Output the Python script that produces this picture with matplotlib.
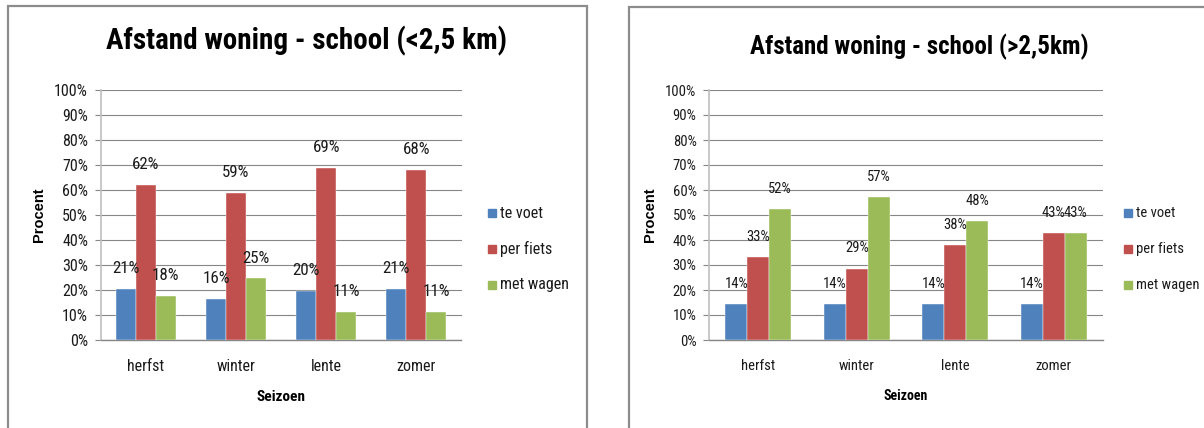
import numpy as np
import matplotlib
matplotlib.use("Agg")
import matplotlib.pyplot as plt
from matplotlib import font_manager
from matplotlib.patches import Rectangle

# --- data -------------------------------------------------------------
seasons = ["herfst", "winter", "lente", "zomer"]
series_names = ["te voet", "per fiets", "met wagen"]

near_te_voet = [20.6, 16.4, 19.6, 20.6]
near_per_fiets = [62.0, 58.9, 69.0, 68.0]
near_met_wagen = [17.6, 24.7, 11.4, 11.4]

far_te_voet = [14.3, 14.3, 14.3, 14.3]
far_per_fiets = [33.3, 28.6, 38.1, 42.9]
far_met_wagen = [52.4, 57.1, 47.6, 42.9]

titles = ["Afstand woning - school (<2,5 km)", "Afstand woning - school (>2,5km)"]
y_ticks = list(range(0, 101, 10))

# --- styling ----------------------------------------------------------
def pick_font(candidates):
    names = {f.name for f in font_manager.fontManager.ttflist}
    for c in candidates:
        if c in names:
            return c
    return "DejaVu Sans"

NARROW = pick_font(["Liberation Sans Narrow", "Roboto Condensed", "Open Sans Condensed", "Liberation Sans"])
WIDE = pick_font(["Liberation Sans", "DejaVu Sans"])

colors = ["#4F81BD", "#C0504D", "#9BBB59"]
grid_color = "#868686"

W, H = 1204, 428
fig = plt.figure(figsize=(W / 100, H / 100), dpi=100)
fig.patch.set_facecolor("white")


def px_axes(x0, x1, y0, y1):
    return fig.add_axes([x0 / W, 1 - y1 / H, (x1 - x0) / W, (y1 - y0) / H])


def frame(x0, y0, x1, y1):
    r = Rectangle((x0 / W, 1 - y1 / H), (x1 - x0) / W, (y1 - y0) / H,
                  transform=fig.transFigure, fill=False,
                  edgecolor="#8c8c8c", linewidth=1.6, zorder=0)
    fig.patches.append(r)


def panel(ax, data, title, title_xy, title_size, fs, label_fs, legend_x,
          seizoen_size):
    n = len(seasons)
    x = np.arange(n)
    bw = 1 / 4.5
    for i, (vals, col) in enumerate(zip(data, colors)):
        pos = x + (i - 1) * bw
        ax.bar(pos, vals, width=bw, color=col, edgecolor="white",
               linewidth=0.3, zorder=3, label=series_names[i])
        for xp, v in zip(pos, vals):
            ax.annotate(f"{v:.0f}%", (xp, v), xytext=(0, 14.5),
                        textcoords="offset points", ha="center", va="center",
                        fontsize=label_fs, fontfamily=NARROW, color="#1a1a1a",
                        zorder=5)
    ax.set_xlim(-0.5, n - 0.5)
    ax.set_ylim(0, 100)
    ax.set_yticks(y_ticks)
    ax.set_yticklabels([f"{t}%" for t in y_ticks], fontfamily=NARROW,
                       fontsize=fs, color="#1a1a1a")
    ax.set_xticks(x)
    ax.set_xticklabels(seasons, fontfamily=NARROW, fontsize=fs, color="#1a1a1a")
    ax.tick_params(axis="x", length=0, pad=14)
    ax.tick_params(axis="y", length=4, color=grid_color, width=0.8, pad=5)
    ax.grid(axis="y", color=grid_color, linewidth=0.8, zorder=0)
    ax.set_axisbelow(True)
    for s in ["top", "right"]:
        ax.spines[s].set_visible(False)
    ax.spines["left"].set_color("#bfbfbf")
    ax.spines["left"].set_linewidth(1.2)
    ax.spines["bottom"].set_color(grid_color)
    ax.spines["bottom"].set_linewidth(1.0)
    ax.set_xlabel("Seizoen", fontfamily=NARROW, fontweight="bold",
                  fontsize=seizoen_size, labelpad=11)
    ax.set_ylabel("Procent", fontfamily=WIDE, fontweight="bold", fontsize=10.5,
                  labelpad=6)
    fig.text(title_xy[0] / W, 1 - title_xy[1] / H, title, ha="center",
             va="center", fontfamily=NARROW, fontweight="bold",
             fontsize=title_size, color="black")
    # legend drawn as squares + labels at fixed rows
    for i, (name, col) in enumerate(zip(series_names, colors)):
        yc = [213, 249, 285][i]
        fig.patches.append(Rectangle((legend_x / W, 1 - (yc + 4) / H), 8 / W, 8 / H,
                                     transform=fig.transFigure, color=col))
        fig.text((legend_x + 12) / W, 1 - yc / H, name, ha="left", va="center",
                 fontfamily=NARROW, fontsize=fs, color="#1a1a1a")


frame(8, 6, 587, 440)
frame(629, 7, 1216, 440)

ax1 = px_axes(100.6, 461.5, 90, 340)
panel(ax1, [near_te_voet, near_per_fiets, near_met_wagen], titles[0],
      (307, 41), 21, 11.5, 12.2, 488, 11)

ax2 = px_axes(709, 1103, 90, 340)
panel(ax2, [far_te_voet, far_per_fiets, far_met_wagen], titles[1],
      (919, 47), 18, 10.5, 10.5, 1124, 10)

fig.savefig("out.png", dpi=100, facecolor="white")
